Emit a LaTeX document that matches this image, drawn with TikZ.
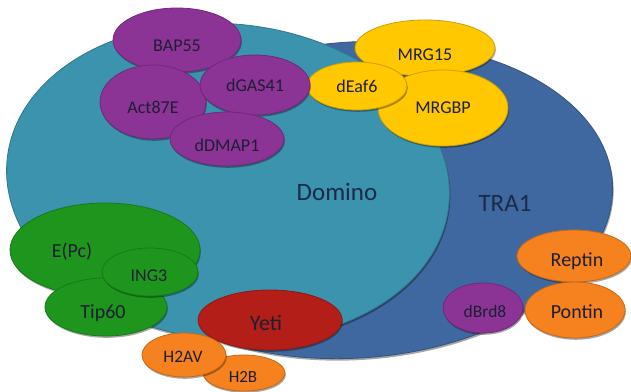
\documentclass[tikz,border=0pt]{standalone}
\usepackage{fontspec}
\setmainfont{Carlito}
\usetikzlibrary{shapes.geometric,shadows}
\definecolor{domino}{HTML}{3C93AE}
\definecolor{traone}{HTML}{4068A0}
\definecolor{purp}{HTML}{8C3396}
\definecolor{yel}{HTML}{FFC800}
\definecolor{grn}{HTML}{1E961E}
\definecolor{redd}{HTML}{B41E19}
\definecolor{orng}{HTML}{F5821E}
\definecolor{txt}{HTML}{1E1E32}
\definecolor{navy}{HTML}{1A2A48}
\tikzset{
  blob/.style={ellipse, inner sep=0pt, text=txt, font=\fontsize{18}{18}\selectfont,
    drop shadow={shadow xshift=0.8pt, shadow yshift=-1.8pt, opacity=0.35, fill=black}},
  pblob/.style={blob, fill=purp, draw=purp!80!black, line width=0.8pt},
  yblob/.style={blob, fill=yel, draw=yel!80!black, line width=0.8pt},
  gblob/.style={blob, fill=grn, draw=grn!80!black, line width=0.8pt},
  rblob/.style={blob, fill=redd, draw=redd!80!black, line width=0.8pt},
  oblob/.style={blob, fill=orng, draw=orng!80!black, line width=0.8pt},
  big/.style={ellipse, inner sep=0pt,
    drop shadow={shadow xshift=1pt, shadow yshift=-2pt, opacity=0.35, fill=black}},
  biglabel/.style={text=navy, font=\fontsize{25}{25}\selectfont},
}
\begin{document}
\begin{tikzpicture}[x=1pt,y=-1pt]
\useasboundingbox (0,0) rectangle (631,391);
% big ellipses
\node[big, fill=traone, draw=traone!80!black, line width=0.8pt, minimum width=516pt, minimum height=316pt, rotate=4] (tra) at (355,200) {};
\node[big, fill=domino, draw=domino!80!black, line width=0.8pt, minimum width=444pt, minimum height=316pt, rotate=-6] (dom) at (228,182) {};
\node[biglabel] (domlab) at (337,192) {Domino};
\node[biglabel] (tralab) at (505,203) {TRA1};
% purple / yellow top cluster
\node[pblob, minimum width=128pt, minimum height=64pt] (bap) at (177,40) {};
\node[text=txt, font=\fontsize{18}{18}\selectfont] (baplab) at (177,46) {BAP55};
\node[pblob, minimum width=106pt, minimum height=74pt] (act) at (153,102) {};
\node[text=txt, font=\fontsize{18}{18}\selectfont] (actlab) at (153,107) {Act87E};
\node[yblob, minimum width=140pt, minimum height=56pt] (mrg) at (425,48) {};
\node[text=txt, font=\fontsize{18}{18}\selectfont] (mrglab) at (425,55) {MRG15};
\node[yblob, minimum width=130pt, minimum height=76pt] (mrgbp) at (443,108) {MRGBP};
\node[yblob, minimum width=100pt, minimum height=48pt] (eaf) at (357,86) {dEaf6};
\node[pblob, minimum width=110pt, minimum height=60pt] (gas) at (255,85) {dGAS41};
\node[pblob, minimum width=114pt, minimum height=54pt] (dmap) at (227,139) {};
\node[text=txt, font=\fontsize{18}{18}\selectfont] (dmaplab) at (227,145) {dDMAP1};
% green cluster
\node[gblob, minimum width=190pt, minimum height=94pt] (epc) at (105,250) {};
\node[text=txt, font=\fontsize{20}{20}\selectfont] (epclab) at (72,252) {E(Pc)};
\node[gblob, minimum width=122pt, minimum height=58pt, font=\fontsize{20}{20}\selectfont] (tip) at (106,307) {};
\node[text=txt, font=\fontsize{20}{20}\selectfont] (tiplab) at (103,313) {Tip60};
\node[gblob, minimum width=96pt, minimum height=48pt] (ing) at (150,272) {};
\node[text=txt, font=\fontsize{18}{18}\selectfont] (inglab) at (149,276) {ING3};
% bottom
\node[oblob, minimum width=82pt, minimum height=36pt] (htb) at (244,373) {};
\node[text=txt, font=\fontsize{17}{17}\selectfont] (htblab) at (243,377) {H2B};
\node[rblob, minimum width=144pt, minimum height=60pt] (yeti) at (270,320) {};
\node[text=txt, font=\fontsize{22}{22}\selectfont] (yetilab) at (266,323) {Yeti};
\node[oblob, minimum width=84pt, minimum height=44pt] (h2av) at (184,355) {};
\node[text=txt, font=\fontsize{17.5}{17.5}\selectfont] (h2avlab) at (183,357) {H2AV};
% right
\node[pblob, minimum width=80pt, minimum height=50pt] (brd) at (483,308) {};
\node[text=txt, font=\fontsize{17.5}{17.5}\selectfont] (brdlab) at (485,311) {dBrd8};
\node[oblob, minimum width=114pt, minimum height=52pt] (rep) at (574,256) {};
\node[text=txt, font=\fontsize{20}{20}\selectfont] (replab) at (577,261) {Reptin};
\node[oblob, minimum width=100pt, minimum height=56pt] (pon) at (575,310) {};
\node[text=txt, font=\fontsize{20}{20}\selectfont] (ponlab) at (577,312) {Pontin};
\end{tikzpicture}
\end{document}
